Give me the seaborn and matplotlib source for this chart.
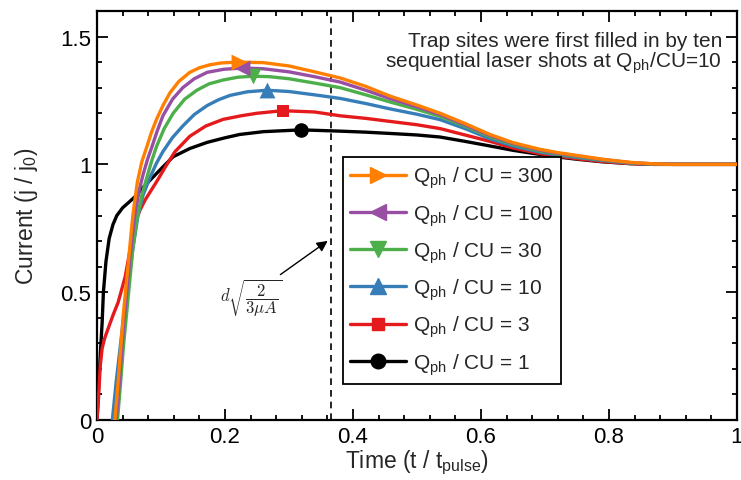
import matplotlib
matplotlib.use("Agg")
import matplotlib.pyplot as plt
from matplotlib.lines import Line2D
from matplotlib.ticker import MultipleLocator
import pandas as pd
import seaborn as sns

# Photon charge ratios, legend order
ratios = ["300", "100", "30", "10", "3", "1"]
colors = ["#ff7f00", "#984ea3", "#4daf4a", "#377eb8", "#e41a1c", "#000000"]
markers = [">", "<", "v", "^", "s", "o"]

# Current transients j/j0 versus t/t_pulse
t_300 = [0.028, 0.033, 0.037, 0.041, 0.046, 0.051, 0.056, 0.063, 0.070, 0.078, 0.085, 0.093, 0.103,
         0.114, 0.128, 0.145, 0.160, 0.177, 0.195, 0.220, 0.260, 0.300, 0.340, 0.380, 0.420, 0.458,
         0.500, 0.536, 0.575, 0.614, 0.650, 0.692, 0.720, 0.750, 0.790, 0.833, 0.870, 0.900, 1.0]
j_300 = [0.0, 0.15, 0.28, 0.41, 0.54, 0.67, 0.80, 0.93, 1.01, 1.07, 1.125, 1.176, 1.23,
         1.28, 1.325, 1.36, 1.378, 1.39, 1.397, 1.40, 1.398, 1.385, 1.362, 1.338, 1.305, 1.267,
         1.232, 1.20, 1.16, 1.117, 1.085, 1.059, 1.046, 1.035, 1.02, 1.008, 1.002, 1.0, 1.0]

t_100 = [0.030, 0.035, 0.039, 0.043, 0.048, 0.053, 0.059, 0.066, 0.072, 0.079, 0.086, 0.094, 0.103,
         0.118, 0.134, 0.152, 0.172, 0.198, 0.227, 0.260, 0.300, 0.340, 0.380, 0.420, 0.458,
         0.500, 0.536, 0.575, 0.614, 0.650, 0.692, 0.720, 0.750, 0.790, 0.833, 0.870, 0.900, 1.0]
j_100 = [0.0, 0.15, 0.28, 0.41, 0.54, 0.67, 0.80, 0.90, 0.96, 1.02, 1.07, 1.13, 1.19,
         1.255, 1.30, 1.335, 1.36, 1.372, 1.377, 1.374, 1.362, 1.343, 1.322, 1.29, 1.257,
         1.225, 1.195, 1.155, 1.113, 1.082, 1.056, 1.043, 1.033, 1.019, 1.007, 1.002, 1.0, 1.0]

t_30 = [0.032, 0.037, 0.041, 0.046, 0.051, 0.056, 0.062, 0.070, 0.078, 0.085, 0.093, 0.105, 0.119,
        0.137, 0.156, 0.175, 0.197, 0.220, 0.244, 0.270, 0.300, 0.340, 0.380, 0.420, 0.458,
        0.500, 0.536, 0.575, 0.614, 0.650, 0.692, 0.720, 0.750, 0.790, 0.833, 0.870, 0.900, 1.0]
j_30 = [0.0, 0.15, 0.28, 0.41, 0.54, 0.67, 0.78, 0.88, 0.95, 1.01, 1.07, 1.14, 1.20,
        1.255, 1.29, 1.315, 1.33, 1.341, 1.345, 1.343, 1.335, 1.318, 1.30, 1.272, 1.244,
        1.215, 1.188, 1.15, 1.108, 1.078, 1.052, 1.040, 1.030, 1.017, 1.006, 1.001, 1.0, 1.0]

t_10 = [0.024, 0.030, 0.036, 0.042, 0.049, 0.056, 0.064, 0.072, 0.083, 0.093, 0.103, 0.118, 0.134,
        0.152, 0.172, 0.190, 0.208, 0.235, 0.266, 0.300, 0.340, 0.380, 0.420, 0.458,
        0.500, 0.536, 0.575, 0.614, 0.650, 0.692, 0.720, 0.750, 0.790, 0.833, 0.870, 0.900, 1.0]
j_10 = [0.0, 0.15, 0.28, 0.41, 0.54, 0.67, 0.80, 0.88, 0.95, 1.005, 1.05, 1.105, 1.15,
        1.195, 1.23, 1.253, 1.27, 1.284, 1.29, 1.285, 1.272, 1.258, 1.238, 1.217,
        1.196, 1.175, 1.14, 1.10, 1.072, 1.048, 1.037, 1.027, 1.015, 1.005, 1.001, 1.0, 1.0]

t_3 = [0.0, 0.002, 0.005, 0.008, 0.012, 0.017, 0.025, 0.033, 0.044, 0.052, 0.059, 0.067, 0.075,
       0.085, 0.095, 0.108, 0.122, 0.145, 0.170, 0.197, 0.225, 0.250, 0.290, 0.340, 0.380, 0.420,
       0.458, 0.500, 0.536, 0.575, 0.614, 0.650, 0.692, 0.720, 0.750, 0.790, 0.833, 0.870, 0.900, 1.0]
j_3 = [0.0, 0.07, 0.21, 0.28, 0.32, 0.355, 0.41, 0.46, 0.56, 0.67, 0.77, 0.82, 0.86,
       0.90, 0.94, 0.995, 1.05, 1.11, 1.15, 1.176, 1.19, 1.20, 1.21, 1.205, 1.19, 1.18,
       1.168, 1.155, 1.14, 1.115, 1.09, 1.064, 1.042, 1.032, 1.022, 1.011, 1.003, 1.0, 1.0, 1.0]

t_1 = [0.0, 0.002, 0.005, 0.008, 0.010, 0.014, 0.019, 0.025, 0.031, 0.040, 0.049, 0.060, 0.070,
       0.0875, 0.103, 0.119, 0.145, 0.172, 0.200, 0.223, 0.260, 0.319, 0.380, 0.420, 0.458,
       0.500, 0.536, 0.575, 0.614, 0.650, 0.692, 0.720, 0.750, 0.790, 0.833, 0.870, 0.900, 1.0]
j_1 = [0.0, 0.10, 0.25, 0.38, 0.50, 0.62, 0.71, 0.765, 0.80, 0.83, 0.85, 0.875, 0.905,
       0.95, 0.99, 1.03, 1.062, 1.086, 1.104, 1.117, 1.128, 1.135, 1.130, 1.126, 1.121,
       1.115, 1.107, 1.09, 1.072, 1.055, 1.039, 1.029, 1.020, 1.010, 1.003, 1.0, 1.0, 1.0]

# Peak of each transient, marked with the series symbol
peak_t = [0.222, 0.227, 0.244, 0.266, 0.290, 0.319]
peak_j = [1.400, 1.377, 1.345, 1.290, 1.210, 1.135]

x_ticks = [0, 0.2, 0.4, 0.6, 0.8, 1.0]
x_tick_labels = ["0", "0.2", "0.4", "0.6", "0.8", "1"]
y_ticks = [0, 0.5, 1.0, 1.5]
y_tick_labels = ["0", "0.5", "1", "1.5"]

t_space_charge = 0.365  # d*sqrt(2/(3 mu A))

series_t = [t_300, t_100, t_30, t_10, t_3, t_1]
series_j = [j_300, j_100, j_30, j_10, j_3, j_1]

frames = []
for r, tt, jj in zip(ratios, series_t, series_j):
    frames.append(pd.DataFrame({"t": tt, "j": jj, "ratio": r}))
curves = pd.concat(frames, ignore_index=True)
peaks = pd.DataFrame({"t": peak_t, "j": peak_j, "ratio": ratios})

sns.set_theme(style="ticks")
plt.rcParams["font.family"] = ["Liberation Sans", "DejaVu Sans"]
plt.rcParams["axes.linewidth"] = 1.6

fig = plt.figure(figsize=(7.41, 4.81), dpi=100)
ax = fig.add_axes([97 / 741, 1 - 421 / 481, 640 / 741, 409 / 481])

palette = dict(zip(ratios, colors))
draw_order = ratios[::-1]  # highest ratio drawn on top

ax.axvline(t_space_charge, color="black", lw=1.2, ls=(0, (4, 3)), zorder=1)

sns.lineplot(data=curves, x="t", y="j", hue="ratio", hue_order=draw_order, palette=palette,
             sort=False, estimator=None, legend=False, linewidth=2.4, ax=ax, zorder=3)

marker_sizes = {">": 130, "<": 130, "v": 130, "^": 130, "s": 75, "o": 110}
for r in draw_order:
    m = markers[ratios.index(r)]
    sns.scatterplot(data=peaks[peaks["ratio"] == r], x="t", y="j", color=palette[r], marker=m,
                    s=marker_sizes[m], linewidth=0, legend=False, ax=ax, zorder=4)

ax.set_xlim(0, 1)
ax.set_ylim(0, 1.6)
ax.set_xticks(x_ticks)
ax.set_xticklabels(x_tick_labels)
ax.set_yticks(y_ticks)
ax.set_yticklabels(y_tick_labels)
ax.xaxis.set_minor_locator(MultipleLocator(0.04))
ax.yaxis.set_minor_locator(MultipleLocator(0.1))
ax.tick_params(which="both", direction="in", top=True, right=True, width=1.3, colors="black",
               labelsize=16, pad=4)
ax.tick_params(which="major", length=8)
ax.tick_params(which="minor", length=3.8)
for s in ax.spines.values():
    s.set_color("black")

ax.set_xlabel(r"Time (t / t$_{\mathregular{pulse}}$)", fontsize=16.5, labelpad=1)
ax.set_ylabel(r"Current (j / j$_{\mathregular{0}}$)", fontsize=16.5, labelpad=15)

handles = [Line2D([], [], color=c, marker=m, lw=2.4, markersize=(marker_sizes[m] ** 0.5))
           for c, m in zip(colors, markers)]
labels = [r"Q$_{\mathregular{ph}}$ / CU = " + r for r in ratios]
leg = ax.legend(handles, labels, loc="lower left", bbox_to_anchor=(0.384, 0.088),
                borderaxespad=0, fontsize=15, handlelength=2.7, handletextpad=0.3,
                labelspacing=0.55, borderpad=0.35, fancybox=False, framealpha=1,
                edgecolor="black")
leg.get_frame().set_linewidth(1.3)
leg.set_zorder(5)

ax.text(0.977, 0.952,
        "Trap sites were first filled in by ten\n"
        r"sequential laser shots at Q$_{\mathregular{ph}}$/CU=10",
        transform=ax.transAxes, ha="right", va="top", multialignment="right",
        fontsize=15, linespacing=0.95)

ax.annotate("", xy=(0.364, 0.707), xytext=(0.283, 0.5625),
            arrowprops=dict(arrowstyle="-|>", color="black", lw=1.0, mutation_scale=16))
ax.text(0.241, 0.48, r"$d\sqrt{\dfrac{2}{3\mu A}}$", math_fontfamily="cm",
        fontsize=12, ha="center", va="center")

fig.savefig("out.png", dpi=100)
